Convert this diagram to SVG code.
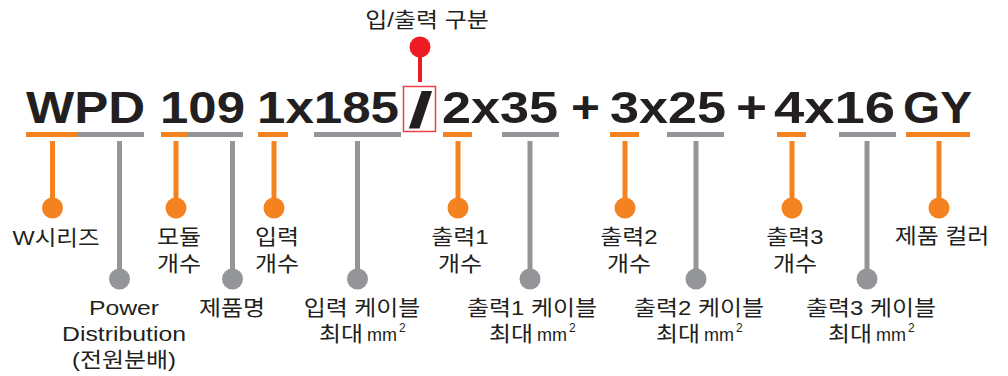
<svg xmlns="http://www.w3.org/2000/svg" width="1008" height="376" viewBox="0 0 1008 376">
<style>
.code{font-family:"Liberation Sans",Arial,sans-serif;font-weight:bold;font-size:45px;fill:#231f20}
.lbl{font-family:"Liberation Sans","Noto Sans CJK KR",sans-serif;font-size:21px;fill:#231f20;text-anchor:middle}
.max{font-family:"Liberation Sans","Noto Sans CJK KR",sans-serif;font-size:21px;fill:#231f20;text-anchor:end}
.mm{font-family:"Liberation Sans",sans-serif;font-size:18px;fill:#231f20}
.sup{font-family:"Liberation Sans",sans-serif;font-size:12px;fill:#231f20}
.o{stroke:#f58220;stroke-width:5;fill:none}
.g{stroke:#939598;stroke-width:5;fill:none}
.oc{fill:#f58220}
.gc{fill:#939598}
</style>
<rect width="1008" height="376" fill="#ffffff"/>
<g id="code">
<text class="code" x="26" y="123" textLength="119" lengthAdjust="spacingAndGlyphs">WPD</text>
<text class="code" x="160" y="123" textLength="85" lengthAdjust="spacingAndGlyphs">109</text>
<text class="code" x="257" y="123" textLength="142" lengthAdjust="spacingAndGlyphs">1x185</text>
<text class="code" x="408" y="127" style="font-size:50px" textLength="25" lengthAdjust="spacingAndGlyphs">/</text>
<text class="code" x="442" y="123" textLength="116" lengthAdjust="spacingAndGlyphs">2x35</text>
<text class="code" x="571" y="123" textLength="29" lengthAdjust="spacingAndGlyphs">+</text>
<text class="code" x="610" y="123" textLength="116" lengthAdjust="spacingAndGlyphs">3x25</text>
<text class="code" x="736" y="123" textLength="31" lengthAdjust="spacingAndGlyphs">+</text>
<text class="code" x="774" y="123" textLength="121" lengthAdjust="spacingAndGlyphs">4x16</text>
<text class="code" x="903" y="123" textLength="69" lengthAdjust="spacingAndGlyphs">GY</text>
<rect x="403.5" y="86.5" width="32" height="45" fill="none" stroke="#e8414a" stroke-width="1.5"/>
</g>
<g id="connectors">
<line class="o" x1="26" y1="134.5" x2="77" y2="134.5"/>
<line class="g" x1="77" y1="134.5" x2="144" y2="134.5"/>
<line class="o" x1="161" y1="134.5" x2="187" y2="134.5"/>
<line class="g" x1="187" y1="134.5" x2="243" y2="134.5"/>
<line class="o" x1="258" y1="134.5" x2="288" y2="134.5"/>
<line class="g" x1="314" y1="134.5" x2="401" y2="134.5"/>
<line class="o" x1="443" y1="134.5" x2="472" y2="134.5"/>
<line class="g" x1="502" y1="134.5" x2="559" y2="134.5"/>
<line class="o" x1="610" y1="134.5" x2="639" y2="134.5"/>
<line class="g" x1="667" y1="134.5" x2="724" y2="134.5"/>
<line class="o" x1="777" y1="134.5" x2="806" y2="134.5"/>
<line class="g" x1="839" y1="134.5" x2="896" y2="134.5"/>
<line class="o" x1="906" y1="134.5" x2="970" y2="134.5"/>
<line class="o" x1="52.5" y1="141" x2="52.5" y2="208"/>
<line class="g" x1="119.5" y1="141" x2="119.5" y2="279"/>
<line class="o" x1="176" y1="141" x2="176" y2="208"/>
<line class="g" x1="232.5" y1="141" x2="232.5" y2="279"/>
<line class="o" x1="274" y1="141" x2="274" y2="208"/>
<line class="g" x1="357.5" y1="141" x2="357.5" y2="279"/>
<line class="o" x1="458" y1="141" x2="458" y2="208"/>
<line class="g" x1="530" y1="141" x2="530" y2="279"/>
<line class="o" x1="625" y1="141" x2="625" y2="208"/>
<line class="g" x1="696" y1="141" x2="696" y2="279"/>
<line class="o" x1="792" y1="141" x2="792" y2="208"/>
<line class="g" x1="867" y1="141" x2="867" y2="279"/>
<line class="o" x1="939" y1="141" x2="939" y2="208"/>
<line x1="420" y1="47" x2="420" y2="82" stroke="#ed1c24" stroke-width="4"/>
</g>
<g id="n-series"><circle class="oc" cx="52.5" cy="208" r="10.5"/><text class="lbl" transform="translate(56 0) scale(1.12 1)" y="245">W시리즈</text></g>
<g id="n-power"><circle class="gc" cx="119.5" cy="279" r="10.5"/><text class="lbl" transform="translate(124 0) scale(1.18 1)" y="315">Power</text><text class="lbl" transform="translate(124 0) scale(1.18 1)" y="341">Distribution</text><text class="lbl" transform="translate(124 0) scale(1.14 1)" y="367">(전원분배)</text></g>
<g id="n-module"><circle class="oc" cx="176" cy="208" r="10.5"/><text class="lbl" transform="translate(179 0) scale(1.14 1)" y="244">모듈</text><text class="lbl" transform="translate(179 0) scale(1.14 1)" y="271">개수</text></g>
<g id="n-product"><circle class="gc" cx="232.5" cy="279" r="10.5"/><text class="lbl" transform="translate(232 0) scale(1.14 1)" y="315">제품명</text></g>
<g id="n-input"><circle class="oc" cx="274" cy="208" r="10.5"/><text class="lbl" transform="translate(277 0) scale(1.14 1)" y="244">입력</text><text class="lbl" transform="translate(277 0) scale(1.14 1)" y="271">개수</text></g>
<g id="n-input-cable"><circle class="gc" cx="357.5" cy="279" r="10.5"/><text class="lbl" transform="translate(362 0) scale(1.14 1)" y="315">입력 케이블</text><text class="max" transform="translate(363 0) scale(1.14 1)" y="341">최대</text><text class="mm" x="367" y="341">mm</text><text class="sup" x="399" y="332">2</text></g>
<g id="n-out1"><circle class="oc" cx="458" cy="208" r="10.5"/><text class="lbl" transform="translate(460 0) scale(1.14 1)" y="244">출력1</text><text class="lbl" transform="translate(460 0) scale(1.14 1)" y="271">개수</text></g>
<g id="n-out1-cable"><circle class="gc" cx="530" cy="279" r="10.5"/><text class="lbl" transform="translate(532 0) scale(1.14 1)" y="315">출력1 케이블</text><text class="max" transform="translate(533 0) scale(1.14 1)" y="341">최대</text><text class="mm" x="537" y="341">mm</text><text class="sup" x="569" y="332">2</text></g>
<g id="n-out2"><circle class="oc" cx="625" cy="208" r="10.5"/><text class="lbl" transform="translate(629 0) scale(1.14 1)" y="244">출력2</text><text class="lbl" transform="translate(629 0) scale(1.14 1)" y="271">개수</text></g>
<g id="n-out2-cable"><circle class="gc" cx="696" cy="279" r="10.5"/><text class="lbl" transform="translate(699 0) scale(1.14 1)" y="315">출력2 케이블</text><text class="max" transform="translate(700 0) scale(1.14 1)" y="341">최대</text><text class="mm" x="704" y="341">mm</text><text class="sup" x="736" y="332">2</text></g>
<g id="n-out3"><circle class="oc" cx="792" cy="208" r="10.5"/><text class="lbl" transform="translate(795 0) scale(1.14 1)" y="244">출력3</text><text class="lbl" transform="translate(795 0) scale(1.14 1)" y="271">개수</text></g>
<g id="n-out3-cable"><circle class="gc" cx="867" cy="279" r="10.5"/><text class="lbl" transform="translate(871 0) scale(1.14 1)" y="315">출력3 케이블</text><text class="max" transform="translate(872 0) scale(1.14 1)" y="341">최대</text><text class="mm" x="876" y="341">mm</text><text class="sup" x="908" y="332">2</text></g>
<g id="n-color"><circle class="oc" cx="939" cy="208" r="10.5"/><text class="lbl" transform="translate(942 0) scale(1.14 1)" y="243">제품 컬러</text></g>
<g id="n-io"><circle cx="420" cy="47" r="10.5" fill="#ed1c24"/><text class="lbl" transform="translate(427 0) scale(1.14 1)" y="27">입/출력 구분</text></g>
</svg>
